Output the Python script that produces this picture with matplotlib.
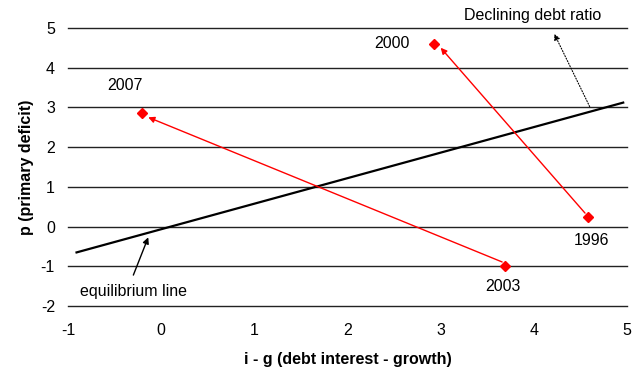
import matplotlib.pyplot as plt

plt.rcParams['font.family'] = ['Liberation Sans', 'DejaVu Sans']
plt.rcParams['axes.unicode_minus'] = False

# data
years = ["1996", "2000", "2003", "2007"]
ig = [4.58, 2.93, 3.69, -0.21]
pdef = [0.24, 4.60, -0.99, 2.85]

eq_x = [-0.91, 4.96]
eq_y = [-0.65, 3.12]

fs = 11.5

fig = plt.figure(figsize=(6.43, 3.67), dpi=100)
ax = fig.add_axes([0.106, 0.166, 0.869, 0.758])

ax.set_xlim(-1, 5)
ax.set_ylim(-2, 5)
ax.set_yticks(range(-2, 6))
ax.set_xticks(range(-1, 6))
ax.grid(axis='y', color='#222222', linewidth=1.0)
for gl in ax.get_ygridlines():
    gl.set_clip_on(False)
ax.set_axisbelow(True)
for s in ax.spines.values():
    s.set_visible(False)
ax.tick_params(length=0, labelsize=fs)
ax.tick_params(axis='x', pad=12)
ax.tick_params(axis='y', pad=9.5)

# equilibrium line
ax.plot(eq_x, eq_y, color='black', linewidth=1.6, zorder=3)

# points
ax.plot(ig, pdef, linestyle='none', marker='D', color='red', markersize=5, zorder=4)

# red arrows 1996->2000 and 2003->2007
for a, b in [(0, 1), (2, 3)]:
    ax.annotate('', xy=(ig[b] + 0.07, pdef[b] - 0.1), xytext=(ig[a] - 0.03, pdef[a] + 0.1),
                arrowprops=dict(arrowstyle='-|>', color='red', lw=1.0, mutation_scale=9,
                                shrinkA=0, shrinkB=0), zorder=3)

# year labels
ax.text(4.62, -0.36, "1996", ha='center', va='center', fontsize=fs)
ax.text(2.48, 4.60, "2000", ha='center', va='center', fontsize=fs)
ax.text(3.67, -1.50, "2003", ha='center', va='center', fontsize=fs)
ax.text(-0.39, 3.55, "2007", ha='center', va='center', fontsize=fs)

# annotations
ax.text(3.99, 5.32, 'Declining debt ratio', ha='center', va='center', fontsize=fs, clip_on=False)
ax.annotate('', xy=(4.22, 4.85), xytext=(4.60, 3.02),
            arrowprops=dict(arrowstyle='-|>', color='black', lw=0.8, linestyle=(0, (1, 1.5)),
                            mutation_scale=9, shrinkA=0, shrinkB=0))
ax.text(-0.30, -1.64, 'equilibrium line', ha='center', va='center', fontsize=fs)
ax.annotate('', xy=(-0.14, -0.27), xytext=(-0.30, -1.22),
            arrowprops=dict(arrowstyle='-|>', color='black', lw=1.0,
                            mutation_scale=9, shrinkA=0, shrinkB=0))

ax.set_xlabel('i - g (debt interest - growth)', fontsize=fs, fontweight='bold', labelpad=10)
ax.set_ylabel('p (primary deficit)', fontsize=fs, fontweight='bold', labelpad=5)

fig.savefig('out.png', dpi=100)
